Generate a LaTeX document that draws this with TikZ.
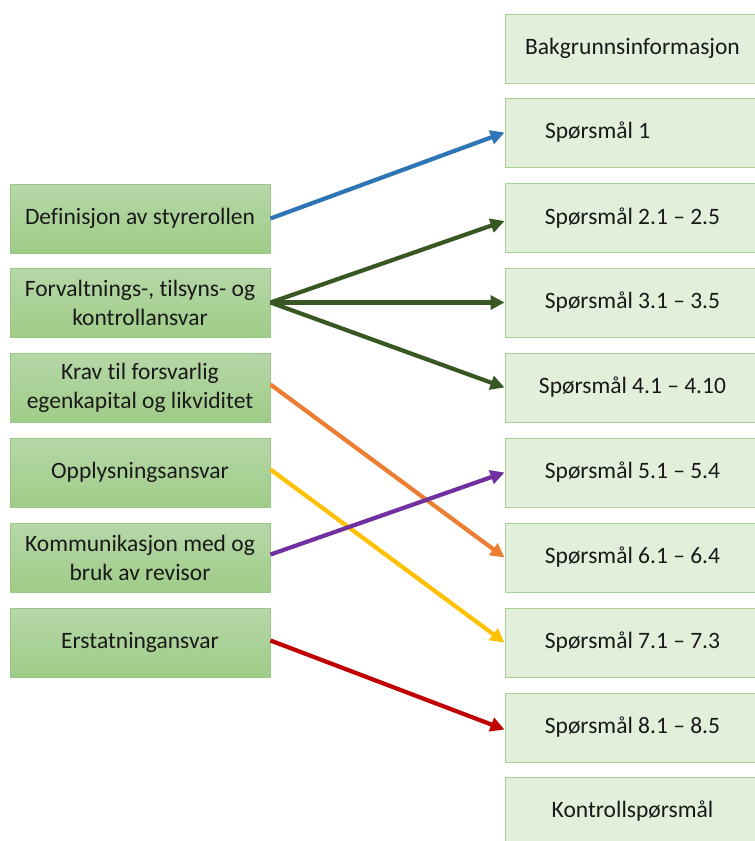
\documentclass[tikz,border=0pt]{standalone}
\usepackage{fontspec}
\setmainfont{Carlito}[Ligatures=NoCommon]
\usetikzlibrary{arrows.meta}

\definecolor{lboxtop}{HTML}{B6D7A8}
\definecolor{lboxbot}{HTML}{9FCC88}
\definecolor{lboxline}{HTML}{9BC785}
\definecolor{rboxfill}{HTML}{E2EFDA}
\definecolor{rboxline}{HTML}{AACF96}
\definecolor{cblue}{HTML}{2E75B6}
\definecolor{cgreen}{HTML}{385723}
\definecolor{corange}{HTML}{ED7D31}
\definecolor{cyellow}{HTML}{FFC000}
\definecolor{cpurple}{HTML}{7030A0}
\definecolor{cred}{HTML}{C00000}

\tikzset{
  x=1pt, y=-1pt,
  every node/.style={font=\fontsize{23.5}{29}\selectfont, text=black!90},
  lbox/.style={draw=lboxline, line width=1pt, top color=lboxtop, bottom color=lboxbot,
    minimum width=260pt, minimum height=69pt, align=center, inner sep=0pt},
  rbox/.style={draw=rboxline, line width=1pt, fill=rboxfill,
    minimum width=255pt, minimum height=69pt, align=center, inner sep=0pt},
  link/.style={line width=4.2pt, -{Triangle[length=14pt,width=14pt]}},
}

\begin{document}
\begin{tikzpicture}
  \clip (0,0) rectangle (755,841);
  \fill[white] (0,0) rectangle (755,841);

  % right column: topics of the questionnaire
  \node[rbox] (bg) at (632.5, 48.5) {Bakgrunnsinformasjon};
  \node[rbox] (q1) at (632.5, 132.5) {\makebox[175pt][l]{Spørsmål 1}};
  \node[rbox] (q2) at (632.5, 218) {Spørsmål 2.1 – 2.5};
  \node[rbox] (q3) at (632.5, 302.5) {Spørsmål 3.1 – 3.5};
  \node[rbox] (q4) at (632.5, 387.5) {Spørsmål 4.1 – 4.10};
  \node[rbox] (q5) at (632.5, 472.5) {Spørsmål 5.1 – 5.4};
  \node[rbox] (q6) at (632.5, 557.5) {Spørsmål 6.1 – 6.4};
  \node[rbox] (q7) at (632.5, 642.5) {Spørsmål 7.1 – 7.3};
  \node[rbox] (q8) at (632.5, 727.5) {Spørsmål 8.1 – 8.5};
  \node[rbox] (kq) at (632.5, 811.5) {Kontrollspørsmål};

  % left column: areas of board responsibility
  \node[lbox] (d1) at (140, 218.5) {Definisjon av styrerollen};
  \node[lbox] (d2) at (140, 302.5) {Forvaltnings-, tilsyns- og\\kontrollansvar};
  \node[lbox] (d3) at (140, 387.5) {Krav til forsvarlig\\egenkapital og likviditet};
  \node[lbox] (d4) at (140, 472.5) {Opplysningsansvar};
  \node[lbox] (d5) at (140, 557.5) {Kommunikasjon med og\\bruk av revisor};
  \node[lbox] (d6) at (140, 642.5) {Erstatningansvar};

  % links from areas to questions
  \draw[link, cblue]   (d1.east) -- (q1.west);
  \draw[link, cgreen]  (d2.east) -- ([yshift=-3pt]q2.west);
  \draw[link, cgreen]  (d2.east) -- (q3.west);
  \draw[link, cgreen]  (d2.east) -- (q4.west);
  \draw[link, corange] ([yshift=3pt]d3.east) -- (q6.west);
  \draw[link, cyellow] ([yshift=3pt]d4.east) -- (q7.west);
  \draw[link, cpurple] ([yshift=3pt]d5.east) -- (q5.west);
  \draw[link, cred]    ([yshift=2pt]d6.east) -- ([yshift=-2pt]q8.west);
\end{tikzpicture}
\end{document}
